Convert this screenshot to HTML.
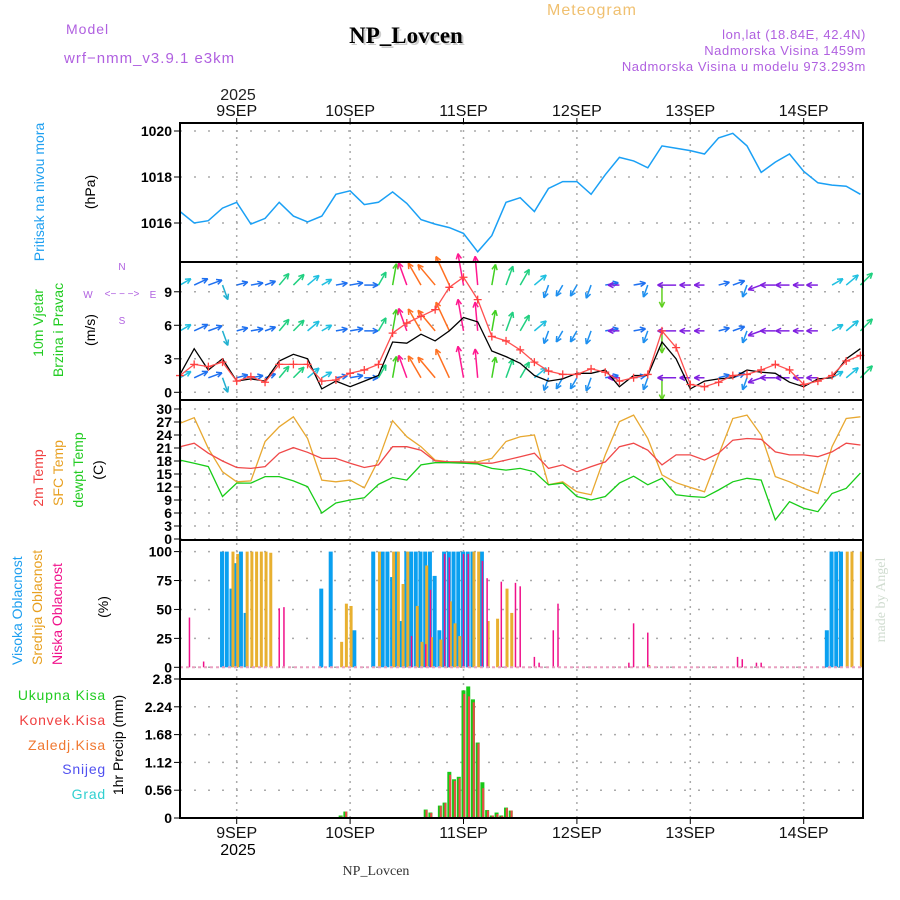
<!DOCTYPE html>
<html><head><meta charset="utf-8"><style>
body{margin:0;background:#fff;}
svg{display:block;font-family:"Liberation Sans",sans-serif;}
</style></head><body>
<svg id="chart" width="900" height="900" viewBox="0 0 900 900" xmlns="http://www.w3.org/2000/svg">
<g>
<text x="592" y="15" fill="#f0c070" font-size="16" letter-spacing="1" text-anchor="middle">Meteogram</text>
<text x="66" y="34" fill="#b060e0" font-size="14" letter-spacing="1">Model</text>
<text x="64" y="63" fill="#b060e0" font-size="15" letter-spacing="1">wrf−nmm_v3.9.1 e3km</text>
<text x="406" y="43" fill="#ccc" font-size="23" font-weight="bold" font-family="Liberation Serif,serif" text-anchor="middle" transform="translate(2,2)">NP_Lovcen</text>
<text x="406" y="43" fill="#000" font-size="23" font-weight="bold" font-family="Liberation Serif,serif" text-anchor="middle">NP_Lovcen</text>
<text x="866" y="39" fill="#b060e0" font-size="13" letter-spacing="0.6" text-anchor="end">lon,lat (18.84E, 42.4N)</text>
<text x="866" y="55" fill="#b060e0" font-size="13" letter-spacing="0.6" text-anchor="end">Nadmorska Visina 1459m</text>
<text x="866" y="71" fill="#b060e0" font-size="13" letter-spacing="0.6" text-anchor="end">Nadmorska Visina u modelu 973.293m</text>
<text x="238" y="100" fill="#222" font-size="16" text-anchor="middle">2025</text>
</g>
<g font-size="14">
<text transform="translate(44,192) rotate(-90)" fill="#1e9ff0" text-anchor="middle">Pritisak na nivou mora</text>
<text transform="translate(95,192) rotate(-90)" fill="#000" text-anchor="middle">(hPa)</text>
<text transform="translate(43,323) rotate(-90)" fill="#22cc22" text-anchor="middle">10m Vjetar</text>
<text transform="translate(63,330) rotate(-90)" fill="#22cc22" text-anchor="middle">Brzina i Pravac</text>
<text transform="translate(95,330) rotate(-90)" fill="#000" text-anchor="middle">(m/s)</text>
<g fill="#b060e0" font-size="10">
<text x="122" y="270" text-anchor="middle">N</text><text x="122" y="324" text-anchor="middle">S</text>
<text x="88" y="298" text-anchor="middle">W</text><text x="153" y="298" text-anchor="middle">E</text>
<text x="122" y="297" text-anchor="middle">&lt;− − −&gt;</text>
</g>
<text transform="translate(43,478) rotate(-90)" fill="#f04040" text-anchor="middle">2m Temp</text>
<text transform="translate(63,473) rotate(-90)" fill="#e8a020" text-anchor="middle">SFC Temp</text>
<text transform="translate(83,470) rotate(-90)" fill="#22cc22" text-anchor="middle">dewpt Temp</text>
<text transform="translate(103,470) rotate(-90)" fill="#000" text-anchor="middle">(C)</text>
<text transform="translate(22,665) rotate(-90)" fill="#1e9ff0">Visoka Oblacnost</text>
<text transform="translate(42,665) rotate(-90)" fill="#e8a020">Srednja Oblacnost</text>
<text transform="translate(62,665) rotate(-90)" fill="#f0108a">Niska Oblacnost</text>
<text transform="translate(108,607) rotate(-90)" fill="#000" text-anchor="middle">(%)</text>
<text x="106" y="700" fill="#22cc22" text-anchor="end" letter-spacing="0.8">Ukupna Kisa</text>
<text x="106" y="725" fill="#f04040" text-anchor="end" letter-spacing="0.8">Konvek.Kisa</text>
<text x="106" y="750" fill="#f07830" text-anchor="end" letter-spacing="0.8">Zaledj.Kisa</text>
<text x="106" y="774" fill="#5050f0" text-anchor="end" letter-spacing="0.8">Snijeg</text>
<text x="106" y="799" fill="#30d0d0" text-anchor="end" letter-spacing="0.8">Grad</text>
<text transform="translate(123,745) rotate(-90)" fill="#000" text-anchor="middle">1hr Precip (mm)</text>
</g>
<text transform="translate(885,600) rotate(-90)" fill="#d0dcd0" font-size="14" font-family="Liberation Serif,serif" text-anchor="middle">made by Angel</text>
<text x="376" y="875" fill="#333" font-size="14" font-family="Liberation Serif,serif" text-anchor="middle">NP_Lovcen</text>
<text x="238" y="855" fill="#000" font-size="16" text-anchor="middle">2025</text>
</svg>
<script>
// ---- data (3-hourly from 8SEP 12UTC) ----
const dayLabels = ["9SEP","10SEP","11SEP","12SEP","13SEP","14SEP"];
const pressure = [1016.5,1016.0,1016.1,1016.65,1016.9,1015.95,1016.2,1016.9,1016.3,1016.05,1016.3,1017.25,1017.4,1016.8,1016.9,1017.35,1016.85,1016.15,1015.95,1015.8,1015.55,1014.75,1015.45,1016.9,1017.1,1016.5,1017.5,1017.8,1017.8,1017.25,1018.1,1018.85,1018.7,1018.4,1019.35,1019.25,1019.15,1019.0,1019.7,1019.9,1019.35,1018.2,1018.65,1019.0,1018.25,1017.75,1017.65,1017.6,1017.25];
const pressureTicks = [1016,1018,1020];
const windSpeed = [1.5,2.5,2.3,2.7,1.0,1.4,0.9,2.5,2.5,2.5,1.0,1.1,1.7,2.0,2.5,5.3,6.2,6.8,7.4,9.4,10.3,8.3,5.0,4.6,3.8,2.7,1.9,1.6,1.6,2.1,1.8,1.0,1.3,1.6,5.5,4.0,0.7,0.5,0.9,1.5,1.6,2.0,2.5,2.0,0.7,1.0,1.5,2.8,3.3];
const windGust = [1.6,3.9,2.0,3.0,1.0,1.2,1.0,2.8,3.4,3.0,0.3,1.0,0.5,1.0,1.5,4.5,4.4,5.2,4.6,5.5,6.7,6.3,3.7,3.2,2.6,1.5,1.0,1.2,1.7,1.7,2.0,0.5,1.5,1.5,4.5,3.0,0.3,1.0,1.2,1.3,2.0,1.8,1.7,0.9,0.5,1.2,1.3,3.0,3.9];
const windDir = [60,65,70,160,75,80,70,40,45,50,60,80,80,90,30,10,340,330,320,335,350,355,10,20,30,50,200,210,210,200,80,270,80,200,180,270,270,270,75,70,200,250,270,270,270,270,60,50,45];
const windTicks = [0,3,6,9];
const windRowLevels = [1.3,5.5,9.6];
const t2m = [21.3,22.1,19.8,18.0,16.5,16.3,16.7,19.8,21.1,20.0,18.6,18.6,17.5,16.5,17.1,21.3,21.3,20.5,18.0,17.8,17.8,17.5,17.5,18.2,19.0,19.8,16.3,17.1,15.5,16.7,17.8,21.3,22.1,20.5,17.1,19.4,19.4,18.2,19.8,22.8,23.2,23.0,20.1,19.4,19.4,19.0,20.1,22.1,21.7];
const sfcT = [26.7,28.0,20.9,15.5,13.2,13.4,22.5,25.9,28.2,23.2,13.6,13.2,13.6,11.8,18.2,27.3,23.6,21.3,18.2,17.8,17.8,17.8,18.6,22.5,23.6,24.0,12.5,13.2,10.9,10.2,19.4,27.1,28.6,23.2,14.8,13.0,11.9,10.9,19.4,27.8,28.6,24.0,14.4,13.2,11.7,10.5,21.3,27.8,28.2];
const dewT = [18.2,17.5,16.7,9.8,12.9,12.9,14.4,14.4,13.4,12.1,6.0,8.3,9.0,9.5,12.6,14.2,13.6,17.1,17.6,17.6,17.5,17.3,16.3,15.9,16.3,15.5,12.5,12.9,9.8,9.0,9.8,12.9,14.5,12.5,14.0,10.2,9.8,9.6,11.3,13.2,14.0,13.6,4.4,8.6,7.1,6.3,10.5,11.7,15.2];
const tempTicks = [0,3,6,9,12,15,18,21,24,27,30];
// hourly clouds (hour index from 8SEP 12UTC, value %)
const highHours = [9,10,11,12,13,14,30,32,37,41,43,44,45,46,47,48,49,50,51,52,53,54,55,56,57,58,59,60,61,62,64,137,138,139,140];
const highVals  = [100,100,68,90,100,47,68,100,32,100,100,100,78,100,40,100,100,100,100,100,100,79,32,100,100,100,100,100,100,100,100,32,100,100,100];
const midHours = [11,12,14,15,16,17,18,19,34,35,36,42,45,46,47,48,50,51,52,53,55,57,58,59,62,63,65,67,69,70,99,141,142,144];
const midVals  = [100,98,100,100,100,100,100,99,22,55,53,100,100,100,72,100,53,22,88,26,24,57,38,27,100,100,40,42,68,47,2,100,100,100];
const lowHours = [2,5,21,22,49,52,53,56,57,60,61,64,65,68,71,72,75,76,79,80,95,96,99,118,119,122,123];
const lowVals  = [43,5,51,52,27,20,67,98,95,98,98,92,77,74,73,70,9,4,32,55,4,38,30,9,7,4,4];
const cloudTicks = [0,25,50,75,100];
// hourly precipitation
const precipHours = [34,35,52,53,55,56,57,58,59,60,61,62,63,64,65,66,67,68,69,70,98];
const totalPrecip = [0.05,0.13,0.17,0.11,0.25,0.31,0.93,0.78,0.83,2.57,2.65,2.39,1.52,0.72,0.16,0.05,0.11,0.05,0.21,0.15,0.02];
const convPrecip  = [0.03,0.13,0.16,0.10,0.24,0.30,0.87,0.75,0.80,2.50,2.45,2.33,1.50,0.60,0.15,0.05,0.08,0.04,0.20,0.15,0.02];
const precipTicks = ["0","0.56","1.12","1.68","2.24","2.8"];

// ---- layout ----
const NS="http://www.w3.org/2000/svg";
const svg=document.getElementById('chart');
const X0=180,X1=863,PXH=4.725;
const xH=h=>X0+h*PXH;
const x3=i=>xH(i*3);
const P={p:[123,262],w:[262,400],t:[400,540],c:[540,679],r:[679,818]};
const yP=v=>223-(v-1016)*23;
const yW=v=>392.3-v*11.17;
const yT=v=>539-v*4.333;
const yC=v=>667.3-v*1.157;
const yR=v=>818-v*49.64;
function el(tag,attrs,parent){const e=document.createElementNS(NS,tag);for(const k in attrs)e.setAttribute(k,attrs[k]);(parent||svg).appendChild(e);return e;}

const grid=el('g',{});


for(let d=0;d<6;d++){
  const x=xH(12+24*d);
  const g=el('line',{x1:x,x2:x,y1:123,y2:818,stroke:'#aaa','stroke-width':1.5,'stroke-dasharray':'2,5'},grid);
  
  
  el('line',{x1:x,x2:x,y1:118,y2:123,stroke:'#000','stroke-width':1},grid);
  el('line',{x1:x,x2:x,y1:818,y2:824,stroke:'#000','stroke-width':1},grid);
  const t1=el('text',{x:x,y:116,'font-size':16,'text-anchor':'middle',fill:'#111'});
  t1.textContent=dayLabels[d];
  
  
  const t2=el('text',{x:x,y:838,'font-size':16,'text-anchor':'middle',fill:'#111'});
  t2.textContent=dayLabels[d];
  
  
}
function hgrid(y){el('line',{x1:X0,x2:X1,y1:y,y2:y,stroke:'#aaa','stroke-width':1.5,'stroke-dasharray':'2,12'},grid);}
function ytick(y,label,name){
  el('line',{x1:X0-6,x2:X0,y1:y,y2:y,stroke:'#000'},grid);
  const t=el('text',{x:X0-8,y:y+5,'font-size':14,'text-anchor':'end',fill:'#000','font-weight':'bold'});
  t.textContent=label;
  
  
}
pressureTicks.forEach(v=>{hgrid(yP(v));ytick(yP(v),v,'pressure-tick');});
windTicks.forEach(v=>{hgrid(yW(v));ytick(yW(v),v,'wind-tick');});
tempTicks.forEach(v=>{hgrid(yT(v));ytick(yT(v),v,'temp-tick');});
cloudTicks.forEach(v=>{hgrid(yC(v));ytick(yC(v),v,'cloud-tick');});
precipTicks.forEach(v=>{const y=yR(parseFloat(v));if(v!=="0"&&v!=="2.8")hgrid(y);ytick(y,v,'precip-tick');});
el('line',{x1:X0,x2:X1,y1:yR(2.8),y2:yR(2.8),stroke:'#000','stroke-width':1.5,'stroke-dasharray':'6,4'},grid);
el('line',{x1:X0,x2:X1,y1:818,y2:818,stroke:'#000','stroke-width':1.5,'stroke-dasharray':'6,4'},grid);

function line(arr,fx,fy,color,name,w){
  const d=arr.map((v,i)=>(i?'L':'M')+fx(i).toFixed(1)+' '+fy(v).toFixed(1)).join(' ');
  const p=el('path',{d:d,fill:'none',stroke:color,'stroke-width':w||1.3});
  
  
  return p;
}
line(pressure,x3,yP,'#1aa0f5','pressure-line',1.5);
line(sfcT,x3,yT,'#e8a830','sfc-temp-line');
line(t2m,x3,yT,'#f04848','t2m-line');
line(dewT,x3,yT,'#18cc18','dewpoint-line');

function dirColor(a){
  a=((a%360)+360)%360;
  if(a>=340||a<5) return '#ff1890';
  if(a>=320) return '#ff7020';
  if(a>=290) return '#e0c020';
  if(a<20) return '#40d020';
  if(a<50) return '#20d080';
  if(a<65) return '#20c0e0';
  if(a<100) return '#1e70f0';
  if(a<170) return '#20b0d0';
  if(a<195) return '#60d020';
  if(a<240) return '#1e90f0';
  return '#8020e0';
}
const wg=el('g',{});


windRowLevels.forEach((lvl,r)=>{
  windSpeed.forEach((s,i)=>{
    const a=windDir[i]*Math.PI/180;
    const len=Math.min(32,9+s*2.4);
    const x=x3(i), y=yW(lvl);
    const x2=x+Math.sin(a)*len, y2=y-Math.cos(a)*len;
    const c=dirColor(windDir[i]);
    const g=el('g',{stroke:c,'stroke-width':1.5,fill:'none'},wg);
    
    
    el('line',{x1:x,y1:y,x2:x2,y2:y2},g);
    const ha=0.45,hl=6;
    [a+Math.PI-ha,a+Math.PI+ha].forEach(b=>el('line',{x1:x2,y1:y2,x2:x2+Math.sin(b)*hl,y2:y2-Math.cos(b)*hl},g));
  });
});
line(windGust,x3,yW,'#000','wind-gust-line',1.3);
line(windSpeed,x3,yW,'#ff5050','wind-speed-line',1.3);
windSpeed.forEach((v,i)=>{
  const x=x3(i),y=yW(v);
  const m=el('path',{d:`M${x-4} ${y}H${x+4}M${x} ${y-4}V${y+4}`,stroke:'#ff4040','stroke-width':1.3});
  
  
});

function bars(hours,vals,fy,color,w,off,name){
  hours.forEach((h,i)=>{
    const x=xH(h)+off,y=fy(vals[i]);
    const r=el('rect',{x:x-w/2,y:y,width:w,height:Math.max(0,fy(0)-y),fill:color});
    
    
  });
}
bars(highHours,highVals,yC,'#0aa0f0',4,-0.5,'high-cloud-bar');
bars(midHours,midVals,yC,'#e8b030',3,1,'mid-cloud-bar');
bars(lowHours,lowVals,yC,'#f0108a',1.5,0,'low-cloud-bar');
el('line',{x1:X0,x2:X1,y1:yC(0),y2:yC(0),stroke:'#e8a0c0','stroke-width':2,'stroke-dasharray':'3,3'});
bars(precipHours,totalPrecip,yR,'#18c818',4,0,'total-precip-bar');
bars(precipHours,convPrecip,yR,'#f04848',2,0.8,'convective-precip-bar');

Object.keys(P).forEach(k=>{
  const [a,b]=P[k];
  const r=el('rect',{x:X0,y:a,width:X1-X0,height:b-a,fill:'none',stroke:'#000','stroke-width':2});
  
  
});
</script>
</body></html>
